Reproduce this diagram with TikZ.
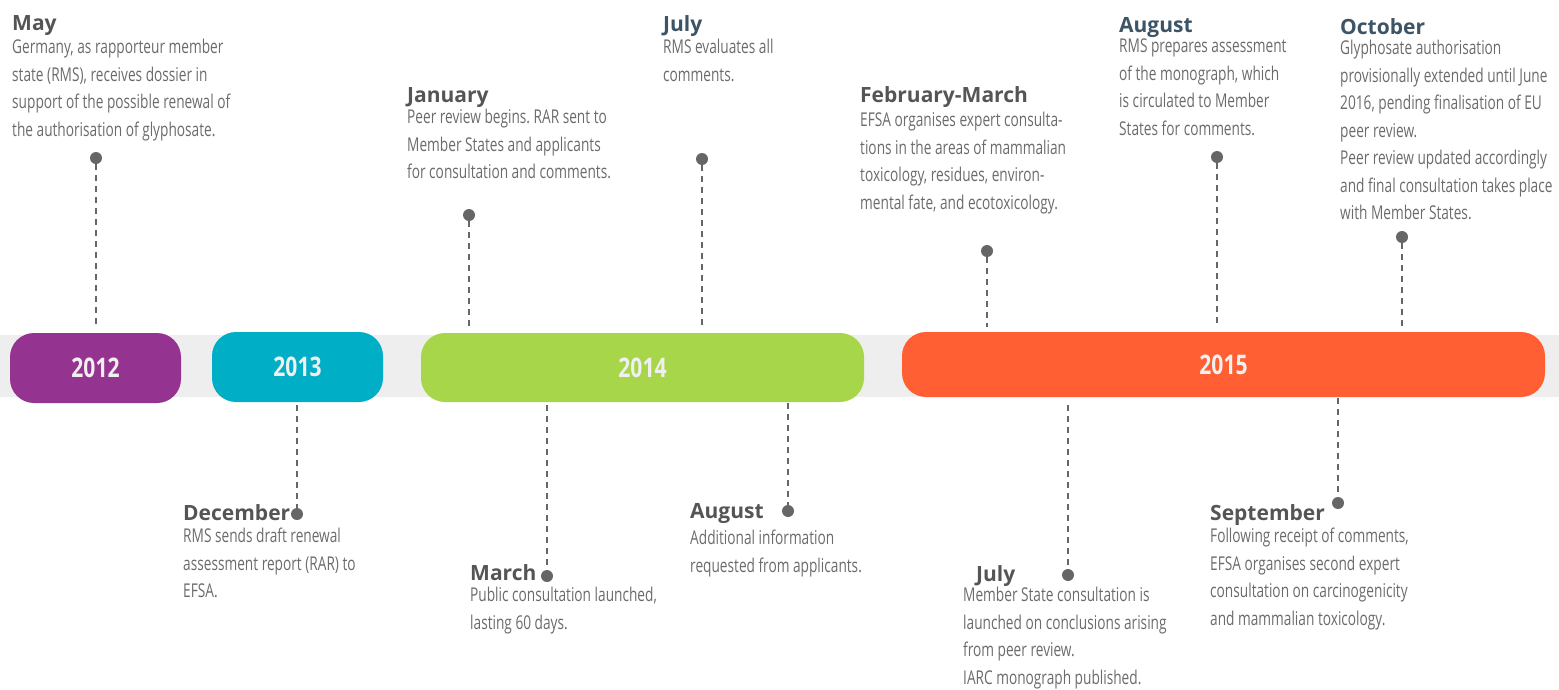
\documentclass[tikz,border=0pt]{standalone}
\usepackage{fontspec}
\setmainfont{Open Sans}
\newfontfamily\bodyfont{Open Sans}[FakeStretch=0.72]
\newfontfamily\yearfont{Open Sans}[FakeStretch=0.78]
\frenchspacing
\usetikzlibrary{positioning}
\definecolor{cpurple}{HTML}{953490}
\definecolor{ccyan}{HTML}{00AEC6}
\definecolor{cgreen}{HTML}{A7D64A}
\definecolor{corange}{HTML}{FF5F32}
\definecolor{bandgray}{HTML}{EEEEEE}
\definecolor{yeartext}{HTML}{F0F0F0}
\definecolor{dotgray}{HTML}{666666}
\definecolor{headgray}{HTML}{555555}
\definecolor{headslate}{HTML}{3C5466}
\definecolor{bodygray}{HTML}{6B6B6B}
\tikzset{
    yearpill/.style = {rounded corners=24pt, align=center, inner sep=0pt, font=\yearfont\bfseries\fontsize{27}{30}\selectfont, text=yeartext},
    pillp/.style = {yearpill, fill=cpurple},
    pillc/.style = {yearpill, fill=ccyan},
    pillg/.style = {yearpill, fill=cgreen},
    pillo/.style = {yearpill, fill=corange},
    evdot/.style = {circle, fill=dotgray, inner sep=0pt, minimum size=12pt},
    dashline/.style = {-, line width=2pt, dotgray, dash pattern=on 6pt off 5pt},
    monthhead/.style = {anchor=base west, inner sep=0pt, font=\bfseries\fontsize{21}{24}\selectfont, text=headgray},
    monthheads/.style = {monthhead, text=headslate},
    evtext/.style = {anchor=north west, inner sep=0pt, align=left, font=\bodyfont\fontsize{19}{27.5}\selectfont, text=bodygray}
}
\begin{document}
\begin{tikzpicture}[x=1pt, y=-1pt]
  \useasboundingbox (0,0) rectangle (1559,689);
  \fill[bandgray] (0,335) rectangle (1559,397);

  \node[pillp, minimum width=171pt, minimum height=70pt] (y2012) at (95.5,368) {2012};
  \node[pillc, minimum width=171pt, minimum height=70pt] (y2013) at (297.5,367) {2013};
  \node[pillg, minimum width=443pt, minimum height=69pt] (y2014) at (642.5,367.5) {2014};
  \node[pillo, minimum width=643pt, minimum height=65pt] (y2015) at (1223.5,364.5) {2015};

  % above the band
  \node[monthhead] (may-head) at (12,30) {May};
  \node[evtext] (may-txt) at (12,39) {Germany, as rapporteur member\\state (RMS), receives dossier in\\support of the possible renewal of\\the authorisation of glyphosate.};
  \node[evdot] (may-dot) at (96,158) {};
  \coordinate (may-end) at (96,328);

  \node[monthhead] (jan-head) at (407,102) {January};
  \node[evtext] (jan-txt) at (407,109) {Peer review begins. RAR sent to\\Member States and applicants\\for consultation and comments.};
  \node[evdot] (jan-dot) at (469,215) {};
  \coordinate (jan-end) at (469,330);

  \node[monthheads] (jul-head) at (663,31) {July};
  \node[evtext] (jul-txt) at (663,39) {RMS evaluates all\\comments.};
  \node[evdot] (jul-dot) at (702,159) {};
  \coordinate (jul-end) at (702,330);

  \node[monthhead] (feb-head) at (860,102) {February-March};
  \node[evtext] (feb-txt) at (860,112) {EFSA organises expert consulta-\\tions in the areas of mammalian\\toxicology, residues, environ-\\mental fate, and ecotoxicology.};
  \node[evdot] (feb-dot) at (987,251) {};
  \coordinate (feb-end) at (987,327);

  \node[monthheads] (aug-head) at (1119,32) {August};
  \node[evtext] (aug-txt) at (1119,39) {RMS prepares assessment\\of the monograph, which\\is circulated to Member\\States for comments.};
  \node[evdot] (aug-dot) at (1217,157) {};
  \coordinate (aug-end) at (1217,326);

  \node[monthheads] (oct-head) at (1340,34) {October};
  \node[evtext] (oct-txt) at (1340,40) {Glyphosate authorisation\\provisionally extended until June\\2016, pending finalisation of EU\\peer review.\\Peer review updated accordingly\\and final consultation takes place\\with Member States.};
  \node[evdot] (oct-dot) at (1402,237) {};
  \coordinate (oct-end) at (1402,330);

  % below the band
  \node[monthhead] (dec-head) at (183,520) {December};
  \node[evtext] (dec-txt) at (183,528) {RMS sends draft renewal\\assessment report (RAR) to\\EFSA.};
  \node[evdot] (dec-dot) at (297,514) {};
  \coordinate (dec-end) at (297,405);

  \node[monthhead] (mar-head) at (470,580) {March};
  \node[evtext] (mar-txt) at (470,587) {Public consultation launched,\\lasting 60 days.};
  \node[evdot] (mar-dot) at (547,576) {};
  \coordinate (mar-end) at (547,405);

  \node[monthhead] (augb-head) at (690,518) {August};
  \node[evtext] (augb-txt) at (690,530) {Additional information\\requested from applicants.};
  \node[evdot] (augb-dot) at (788,511) {};
  \coordinate (augb-end) at (788,403);

  \node[monthhead] (julb-head) at (976,581) {July};
  \node[evtext] (julb-txt) at (963,587) {Member State consultation is\\launched on conclusions arising\\from peer review.\\IARC monograph published.};
  \node[evdot] (julb-dot) at (1068,575) {};
  \coordinate (julb-end) at (1068,405);

  \node[monthhead] (sep-head) at (1210,520) {September};
  \node[evtext] (sep-txt) at (1210,528) {Following receipt of comments,\\EFSA organises second expert\\consultation on carcinogenicity\\and mammalian toxicology.};
  \node[evdot] (sep-dot) at (1338,503) {};
  \coordinate (sep-end) at (1338,398);

  \foreach \ev in {may,jan,jul,feb,aug,oct}
    \draw[dashline] (\ev-dot) -- (\ev-end);
  \foreach \ev in {dec,mar,augb,julb,sep}
    \draw[dashline] (\ev-end) -- (\ev-dot);
\end{tikzpicture}
\end{document}
